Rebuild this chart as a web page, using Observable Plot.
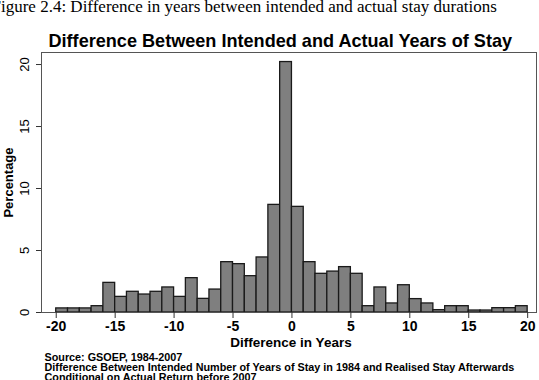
<!DOCTYPE html>
<html>
<head>
<meta charset="utf-8">
<script src="https://cdn.jsdelivr.net/npm/d3@7"></script>
<script src="https://cdn.jsdelivr.net/npm/@observablehq/plot@0.6"></script>
<style>
  html, body { margin: 0; padding: 0; background: #fff; }
  svg { display: block; }
</style>
</head>
<body>
<div id="chart"></div>
<script>
// Histogram bins (start of each 1-year bin) and percentage heights
const binStart = [-20,-19,-18,-17,-16,-15,-14,-13,-12,-11,-10,-9,-8,-7,-6,-5,-4,-3,-2,-1,
                  0,1,2,3,4,5,6,7,8,9,10,11,12,13,14,15,16,17,18,19];
const percentage = [0.33,0.33,0.33,0.51,2.39,1.26,1.67,1.45,1.67,2.02,1.26,2.77,1.10,1.85,4.06,3.90,2.93,4.44,8.68,20.20,
                    8.52,4.06,3.12,3.30,3.66,3.12,0.51,2.02,0.73,2.20,1.08,0.73,0.19,0.51,0.51,0.16,0.16,0.35,0.35,0.51];
const binWidth = 1;
const xTicks = [-20,-15,-10,-5,0,5,10,15,20];
const yTicks = [0,5,10,15,20];

const figureCaption = "Figure 2.4: Difference in years between intended and actual stay durations";
const title = "Difference Between Intended and Actual Years of Stay";
const xLabel = "Difference in Years";
const yLabel = "Percentage";
const notes = [
  "Source: GSOEP, 1984-2007",
  "Difference Between Intended Number of Years of Stay in 1984 and Realised Stay Afterwards",
  "Conditional on Actual Return before 2007"
];

const bins = binStart.map((s, i) => ({x1: s, x2: s + binWidth, y: percentage[i]}));
const font = "'Liberation Sans', Arial, Helvetica, sans-serif";

const plot = Plot.plot({
  width: 539,
  height: 380,
  marginLeft: 41,
  marginRight: 3,
  marginTop: 52,
  marginBottom: 68,
  style: {fontFamily: font, background: "#fff", color: "#000", overflow: "hidden"},
  x: {domain: [-21.25, 20.75]},
  y: {domain: [0, 20.97]},
  marks: [
    Plot.rectY(bins, {x1: "x1", x2: "x2", y: "y", fill: "#7f7f7f", stroke: "#1a1a1a", strokeWidth: 1.3}),
    Plot.frame({stroke: "#555", strokeWidth: 1}),
    Plot.axisX({ticks: xTicks, tickSize: 6, tickPadding: 3, tickFormat: d => String(d),
                fontSize: 14, fontWeight: "bold", label: null, stroke: "#333"}),
    Plot.axisY({ticks: yTicks, tickSize: 5, tickFormat: () => "", label: null, stroke: "#333"}),
    Plot.text(yTicks, {y: d => d, text: d => String(d), frameAnchor: "left", dx: -13,
                       rotate: -90, textAnchor: "middle", lineAnchor: "bottom", fontSize: 13, fill: "#000"}),
    Plot.text([yLabel], {frameAnchor: "left", dx: -28.5, rotate: -90, textAnchor: "middle",
                         lineAnchor: "bottom", fontSize: 13, fontWeight: "bold", fill: "#000"}),
    Plot.text([xLabel], {frameAnchor: "bottom", dx: 2, dy: 34, lineAnchor: "bottom",
                         fontSize: 13.5, fontWeight: "bold", fill: "#000"}),
    Plot.text([title], {frameAnchor: "top-left", dx: 7, dy: -5.5, textAnchor: "start", lineAnchor: "bottom",
                        fontSize: 18.1, fontWeight: "bold", fill: "#000"}),
    Plot.text([figureCaption], {frameAnchor: "top-left", dx: -50, dy: -41, textAnchor: "start", lineAnchor: "bottom",
                                fontSize: 17, fontFamily: "'Liberation Serif', 'Times New Roman', serif", fill: "#000"}),
    ...notes.map((n, i) => Plot.text([n], {frameAnchor: "bottom-left", dx: 3, dy: 48 + i * 10, textAnchor: "start",
                                            lineAnchor: "bottom", fontSize: 10.8, fontWeight: "bold", fill: "#000"}))
  ]
});
document.getElementById("chart").appendChild(plot);
</script>
</body>
</html>
